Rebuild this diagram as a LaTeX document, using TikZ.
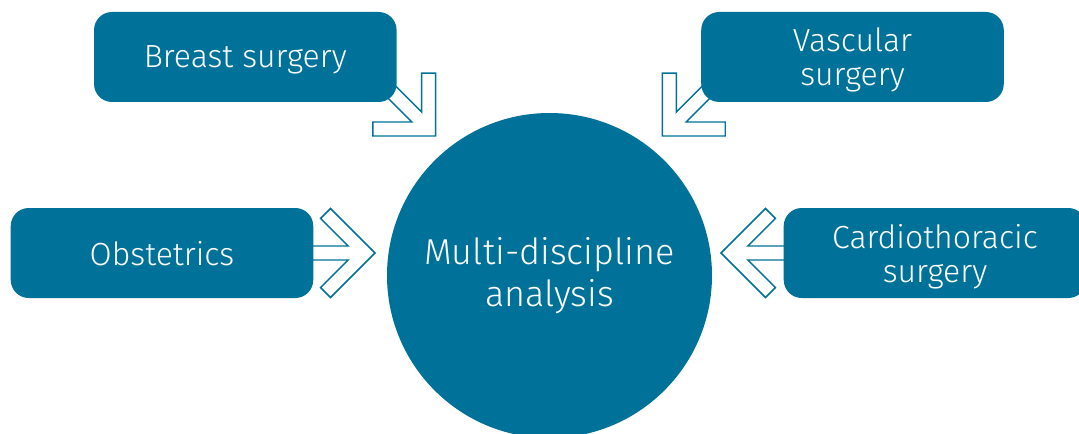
\documentclass[tikz,border=0pt]{standalone}
\usepackage{fontspec}
\IfFontExistsTF{Fira Sans Light}{\setmainfont{Fira Sans Light}}{\setmainfont{Fira Sans}}
\definecolor{deptblue}{RGB}{0,114,153}

\begin{document}
\begin{tikzpicture}[x=0.75pt,y=0.75pt,
	dept/.style={fill=deptblue,rounded corners=13.5pt,minimum width=226.9pt,minimum height=67.5pt,
		text depth=0pt,text=white,font=\fontsize{24}{25.5}\selectfont,align=center},
	hub/.style={circle,fill=deptblue,minimum size=243.75pt,inner sep=0pt,
		text=white,font=\fontsize{27}{32}\selectfont,align=center},
	arrowline/.style={draw=deptblue,line width=1.1pt,fill=white,line join=miter},
	openarrow/.pic={
		\draw[arrowline] (0,0) -- (-44.5,44.5) -- (-54.4,34.6) -- (-26.8,7) -- (-80,7)
			-- (-80,-7) -- (-26.8,-7) -- (-54.4,-34.6) -- (-44.5,-44.5) -- cycle;
	}]
\clip (0,0) rectangle (1079,433);

% arrow tips
\coordinate (tipbreast) at (435.7,297);
\coordinate (tipvasc) at (662.3,297);
\coordinate (tipobst) at (375,180);
\coordinate (tipcardio) at (721,180);

\pic[rotate=-45] at (tipbreast) {openarrow};
\pic[rotate=-135] at (tipvasc) {openarrow};
\pic at (tipobst) {openarrow};
\pic[rotate=180] at (tipcardio) {openarrow};

% departments
\node[dept] (breast) at (245.3,376) {Breast surgery};
\node[dept] (vasc) at (852.5,376) {Vascular\\surgery};
\node[dept] (obst) at (162,180) {Obstetrics};
\node[dept] (cardio) at (935,180) {Cardiothoracic\\surgery};

% centre
\node[hub] (mda) at (549.5,157.5) {Multi-discipline\\analysis};
\end{tikzpicture}
\end{document}
